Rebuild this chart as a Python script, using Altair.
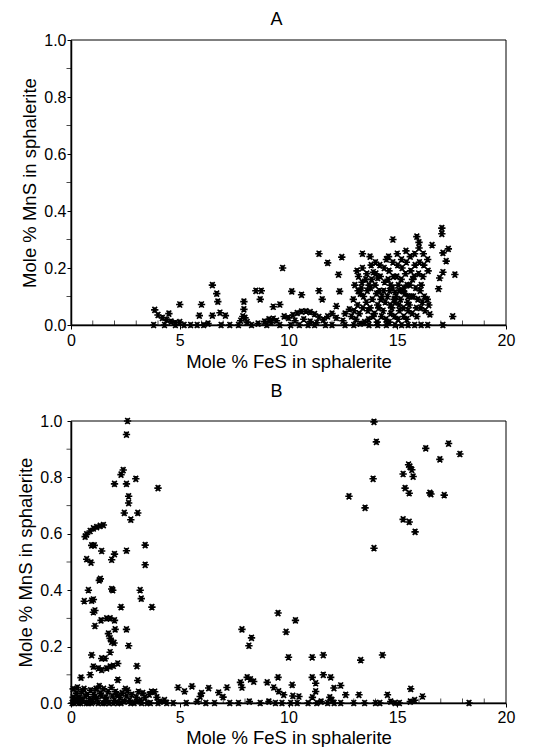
import altair as alt
import pandas as pd

# ---------------- Panel A data (Mole % FeS, Mole % MnS) ----------------
a_fes = [
    3.85, 3.8, 4.0, 4.5, 5.0, 5.0, 5.9, 6.0, 6.5, 6.7, 6.75, 6.5, 6.85, 7.1, 7.95, 7.95, 8.0,
    8.5, 8.75, 8.7, 9.3, 9.6, 9.73, 10.15, 10.6, 11.4, 11.4, 11.55, 11.8, 12.3, 12.45, 12.35,
    12.2, 13.4, 13.75, 14.8, 15.9, 16.0, 16.6, 17.05, 17.05, 17.35, 17.1, 17.25, 17.65, 17.1,
    16.95, 16.9, 17.55, 17.1, 16.5,
    4.3, 4.8, 5.2, 5.5, 5.8, 6.1, 6.3, 6.9, 7.3, 7.7, 8.3, 8.6, 9.0, 9.6, 10.1, 10.5, 10.9,
    11.2, 11.7, 12.0, 12.6, 13.0, 13.3, 13.7, 14.1, 14.5, 14.9, 15.2, 15.5, 15.8, 16.1, 16.4,
    4.2, 4.4, 4.6, 4.8, 7.8, 7.9, 8.1, 8.9, 9.1, 9.3, 9.45, 9.2,
    9.8, 10.0, 10.2, 10.4, 10.6, 10.8, 11.0, 11.2, 11.4, 11.6, 10.3, 10.7, 11.0, 11.3, 11.8,
    12.0, 12.2, 12.5, 12.6, 12.8, 12.9,
    13.02, 12.98, 13.05, 13.1, 13.2, 13.22, 13.18, 13.25, 13.15,
    13.4, 13.38, 13.45, 13.42, 13.35, 13.5, 13.6, 13.62, 13.58, 13.65, 13.55, 13.68,
    13.8, 13.82, 13.78, 13.85, 13.75, 13.88, 14.0, 14.02, 13.98, 14.05, 14.1, 13.95, 14.08,
    14.2, 14.22, 14.18, 14.25, 14.15, 14.28, 14.4, 14.42, 14.38, 14.45, 14.35, 14.48, 14.5,
    14.6, 14.62, 14.58, 14.65, 14.55, 14.68, 14.7, 14.63, 14.8, 14.82, 14.78, 14.85, 14.75,
    14.88, 14.9, 15.0, 15.02, 14.98, 15.05, 14.95, 15.08, 15.1, 15.04, 15.2, 15.22, 15.18,
    15.25, 15.15, 15.28, 15.3, 15.4, 15.42, 15.38, 15.45, 15.35, 15.48, 15.5, 15.44,
    15.6, 15.62, 15.58, 15.65, 15.55, 15.68, 15.8, 15.82, 15.78, 15.85, 15.75, 15.88, 15.9,
    16.0, 16.02, 15.98, 16.05, 15.95, 16.08, 16.2, 16.22, 16.18, 16.25, 16.15, 16.28,
    16.4, 16.42, 16.38, 16.45,
    13.3, 13.7, 14.3, 14.7, 15.1, 15.7, 16.1, 14.1, 14.9, 15.5, 13.9, 15.3,
]
a_mns = [
    0.053, 0.0, 0.035, 0.04, 0.072, 0.01, 0.033, 0.072, 0.14, 0.11, 0.082, 0.033, 0.043, 0.033,
    0.082, 0.055, 0.025, 0.12, 0.12, 0.09, 0.064, 0.072, 0.2, 0.118, 0.106, 0.25, 0.12, 0.09,
    0.218, 0.177, 0.238, 0.118, 0.066, 0.25, 0.24, 0.30, 0.31, 0.29, 0.28, 0.34, 0.32, 0.267,
    0.253, 0.224, 0.177, 0.185, 0.165, 0.127, 0.03, 0.0, 0.037,
    0.0, 0.0, 0.0, 0.0, 0.0, 0.0, 0.005, 0.0, 0.0, 0.0, 0.0, 0.005, 0.0, 0.0, 0.0, 0.0, 0.0,
    0.0, 0.0, 0.0, 0.0, 0.0, 0.005, 0.0, 0.0, 0.0, 0.0, 0.0, 0.0, 0.0, 0.0, 0.0,
    0.025, 0.018, 0.012, 0.008, 0.015, 0.03, 0.01, 0.012, 0.02, 0.022, 0.015, 0.008,
    0.03, 0.025, 0.035, 0.042, 0.047, 0.048, 0.045, 0.038, 0.028, 0.018, 0.015, 0.02, 0.012,
    0.008, 0.03, 0.04, 0.025, 0.015, 0.04, 0.055, 0.03,
    0.05, 0.09, 0.14, 0.02, 0.12, 0.17, 0.07, 0.04, 0.19,
    0.2, 0.15, 0.1, 0.06, 0.13, 0.01, 0.18, 0.12, 0.08, 0.05, 0.16, 0.02,
    0.21, 0.16, 0.13, 0.09, 0.06, 0.03, 0.22, 0.18, 0.14, 0.11, 0.07, 0.04, 0.01,
    0.21, 0.17, 0.12, 0.09, 0.06, 0.03, 0.2, 0.15, 0.12, 0.08, 0.05, 0.02, 0.23,
    0.24, 0.19, 0.16, 0.12, 0.1, 0.07, 0.04, 0.01, 0.22, 0.17, 0.13, 0.09, 0.06,
    0.03, 0.08, 0.25, 0.21, 0.17, 0.14, 0.1, 0.07, 0.05, 0.02, 0.23, 0.2, 0.16,
    0.12, 0.09, 0.06, 0.03, 0.26, 0.22, 0.18, 0.14, 0.11, 0.08, 0.05, 0.02,
    0.24, 0.19, 0.14, 0.1, 0.07, 0.04, 0.25, 0.21, 0.17, 0.13, 0.1, 0.06, 0.03,
    0.27, 0.22, 0.18, 0.12, 0.09, 0.06, 0.25, 0.21, 0.17, 0.1, 0.08, 0.05,
    0.23, 0.19, 0.09, 0.07,
    0.11, 0.14, 0.1, 0.14, 0.12, 0.16, 0.14, 0.165, 0.115, 0.1, 0.185, 0.13,
]

# ---------------- Panel B data ----------------
b_fes = [
    2.6, 2.55, 2.4, 2.3, 2.0, 2.55, 2.98, 2.65, 2.65, 2.45, 2.75, 3.07, 4.0,
    0.65, 0.72, 0.88, 1.03, 1.18, 1.34, 1.49, 0.95, 1.07, 1.41, 0.72, 0.92, 1.3, 1.35, 0.8,
    0.61, 0.95, 1.03, 1.03, 1.1, 1.1, 1.38, 1.64, 1.8, 2.0, 1.72, 1.8, 1.87, 1.98, 2.03,
    2.55, 2.65, 1.8, 0.95, 1.41, 1.57, 1.03, 1.26, 1.41, 1.64, 1.8, 1.95, 2.15, 0.88, 0.46,
    2.15, 3.03, 3.07, 1.87, 2.0, 2.3, 2.55, 3.18, 3.23, 3.41, 3.41, 3.72, 1.87, 1.92,
    4.92, 5.22, 5.56, 6.0, 6.33, 5.94, 6.79, 7.17, 6.99, 7.86, 8.3, 8.18, 7.79, 7.86, 8.1,
    8.25, 8.4, 9.02, 9.32, 9.55, 9.78, 9.52, 9.52, 9.89, 10.32, 10.0, 10.17, 10.48, 11.09,
    11.6, 11.09, 11.25, 11.25, 11.6, 11.94, 12.09, 12.4, 12.63, 13.24, 13.32, 14.32, 14.55,
    15.62, 16.16, 18.3,
    13.93, 14.04, 13.89, 13.93, 12.78, 13.52, 15.27, 15.52, 15.58, 15.67, 15.73, 15.36,
    15.55, 15.27, 15.55, 15.82, 16.31, 16.96, 17.36, 17.88, 16.5, 16.55, 17.16,
    0.05, 0.1, 0.1, 0.2, 0.25, 0.3, 0.35, 0.4, 0.5, 0.55, 0.6, 0.7, 0.75, 0.85, 0.9, 1.0,
    1.05, 1.15, 1.2, 1.3, 1.35, 1.45, 1.5, 1.6, 1.7, 1.75, 1.85, 1.9, 2.0, 2.05, 2.15, 2.25,
    2.35, 2.45, 2.55, 2.6, 2.7, 2.8, 2.9, 3.0, 3.1, 3.2, 3.3, 3.4, 3.5, 3.6, 3.7, 3.85, 3.95,
    4.1, 4.3, 4.4, 0.15, 0.45, 0.65, 0.95, 1.25, 1.55, 1.65, 2.3, 2.75, 3.25, 3.65, 0.3, 1.1,
    1.95, 2.5, 3.05, 4.0, 0.8, 1.4, 2.1,
    4.7, 5.3, 5.8, 6.2, 6.6, 7.3, 7.7, 8.2, 8.7, 9.1, 9.4, 9.7, 10.1, 10.4, 10.9, 11.3, 11.5,
    11.8, 12.1, 12.4, 13.0, 13.5, 14.0, 14.2, 14.7, 14.9, 15.1, 15.6, 15.8, 11.9, 12.0, 11.1,
    10.2,
]
b_mns = [
    1.0, 0.952, 0.826, 0.81, 0.777, 0.777, 0.795, 0.733, 0.709, 0.674, 0.65, 0.674, 0.762,
    0.59, 0.598, 0.61, 0.619, 0.624, 0.628, 0.631, 0.559, 0.559, 0.539, 0.51, 0.498, 0.435,
    0.44, 0.40, 0.361, 0.363, 0.367, 0.322, 0.328, 0.273, 0.293, 0.30, 0.30, 0.293, 0.246,
    0.229, 0.217, 0.213, 0.261, 0.261, 0.203, 0.18, 0.17, 0.158, 0.158, 0.129, 0.123, 0.117,
    0.123, 0.129, 0.132, 0.14, 0.10, 0.09, 0.082, 0.131, 0.08, 0.508, 0.528, 0.34, 0.54,
    0.40, 0.37, 0.56, 0.49, 0.34, 0.404, 0.40,
    0.055, 0.041, 0.059, 0.035, 0.053, 0.023, 0.037, 0.055, 0.021, 0.261, 0.231, 0.203,
    0.073, 0.055, 0.091, 0.084, 0.076, 0.073, 0.055, 0.041, 0.029, 0.091, 0.319, 0.252,
    0.293, 0.162, 0.064, 0.023, 0.162, 0.17, 0.091, 0.07, 0.041, 0.10, 0.091, 0.053, 0.062,
    0.029, 0.029, 0.152, 0.17, 0.029, 0.05, 0.023, 0.0,
    0.997, 0.926, 0.795, 0.549, 0.733, 0.692, 0.812, 0.845, 0.838, 0.827, 0.803, 0.762,
    0.744, 0.651, 0.642, 0.607, 0.903, 0.864, 0.92, 0.883, 0.745, 0.741, 0.737,
    0.0, 0.02, 0.05, 0.01, 0.035, 0.055, 0.0, 0.02, 0.04, 0.01, 0.05, 0.0, 0.03, 0.015, 0.045,
    0.005, 0.03, 0.05, 0.015, 0.06, 0.035, 0.0, 0.05, 0.02, 0.04, 0.0, 0.055, 0.025, 0.01,
    0.04, 0.0, 0.02, 0.035, 0.005, 0.025, 0.045, 0.01, 0.03, 0.0, 0.02, 0.04, 0.01, 0.035,
    0.02, 0.0, 0.03, 0.04, 0.04, 0.02, 0.005, 0.01, 0.0, 0.0, 0.0, 0.025, 0.0, 0.0, 0.0, 0.01,
    0.0, 0.0, 0.0, 0.0, 0.015, 0.02, 0.0, 0.05, 0.005, 0.0, 0.0, 0.025, 0.03,
    0.0, 0.0, 0.005, 0.0, 0.0, 0.0, 0.0, 0.005, 0.0, 0.005, 0.0, 0.0, 0.0, 0.0, 0.0, 0.0,
    0.005, 0.0, 0.0, 0.0, 0.0, 0.0, 0.0, 0.0, 0.005, 0.0, 0.0, 0.005, 0.01, 0.02, 0.01, 0.02,
    0.025,
]

x_major = [0, 5, 10, 15, 20]
x_minor = [1, 2, 3, 4, 6, 7, 8, 9, 11, 12, 13, 14, 16, 17, 18, 19]
y_major = [0.0, 0.2, 0.4, 0.6, 0.8, 1.0]
y_minor = [0.1, 0.3, 0.5, 0.7, 0.9]
x_range = [0, 20]
y_range = [0.0, 1.0]

X_TITLE = "Mole % FeS in sphalerite"
Y_TITLE = "Mole % MnS in sphalerite"
FONT = "Liberation Sans"
STAR = "M-1,0L1,0M-0.62,-0.85L0.62,0.85M-0.62,0.85L0.62,-0.85M0,-0.75L0,0.75"

W = 435


def panel(fes, mns, letter, height, label_pad, title_offset, x_label_pad, x_title_pad):
    df = pd.DataFrame({"fes": fes, "mns": mns})
    xs = alt.Scale(domain=x_range, nice=False, zero=False)
    ys = alt.Scale(domain=y_range, nice=False)
    pts = alt.Chart(df).mark_point(
        shape=STAR, filled=False, stroke="black", strokeWidth=1.6, size=54, opacity=1
    ).encode(
        x=alt.X("fes:Q", scale=xs, axis=alt.Axis(
            values=x_major, title=X_TITLE, orient="bottom", format="d", labelFlush=False,
            tickSize=4, labelPadding=x_label_pad, titlePadding=x_title_pad)),
        y=alt.Y("mns:Q", scale=ys, axis=alt.Axis(
            values=y_major, title=Y_TITLE, orient="left", format=".1f", labelFlush=False,
            tickSize=4, labelPadding=label_pad, titlePadding=4)),
    )
    frame = alt.Chart(pd.DataFrame({"x0": [x_range[0]], "x1": [x_range[1]],
                                    "y0": [y_range[0]], "y1": [y_range[1]]})).mark_rect(
        fillOpacity=0, stroke="black", strokeWidth=1
    ).encode(
        x=alt.X("x0:Q", scale=xs), x2="x1:Q",
        y=alt.Y("y0:Q", scale=ys), y2="y1:Q",
    )
    xminor = alt.Chart(pd.DataFrame({"t": x_minor})).mark_tick(
        orient="vertical", size=5, thickness=1, color="black", yOffset=-2
    ).encode(x=alt.X("t:Q", scale=xs), y=alt.datum(0.0, scale=ys))
    yminor = alt.Chart(pd.DataFrame({"t": y_minor})).mark_tick(
        orient="horizontal", size=5, thickness=1, color="black", xOffset=-2
    ).encode(y=alt.Y("t:Q", scale=ys), x=alt.datum(0, scale=xs))
    return alt.layer(frame, xminor, yminor, pts).properties(
        width=W, height=height,
        title=alt.TitleParams(letter, fontSize=18, font=FONT, fontWeight="normal",
                              dx=-12, offset=title_offset, color="black"),
    )


chart = alt.concat(
    panel(a_fes, a_mns, "A", 285, 1, 3, 3, 4),
    panel(b_fes, b_mns, "B", 282, 5, 12, 2, 3),
    columns=1, spacing=12, align="none",
).configure_view(
    stroke=None
).configure_axis(
    domainColor="black", domainWidth=1.5, tickColor="black", tickWidth=1,
    labelFont=FONT, labelFontSize=16, labelColor="black",
    titleFont=FONT, titleFontSize=18.5, titleFontWeight="normal", titleColor="black",
    grid=False,
).properties(padding={"left": 8, "top": 3, "right": 2, "bottom": 0}, background="white")

chart.save("out.html", embed_options={"renderer": "svg", "actions": False})
